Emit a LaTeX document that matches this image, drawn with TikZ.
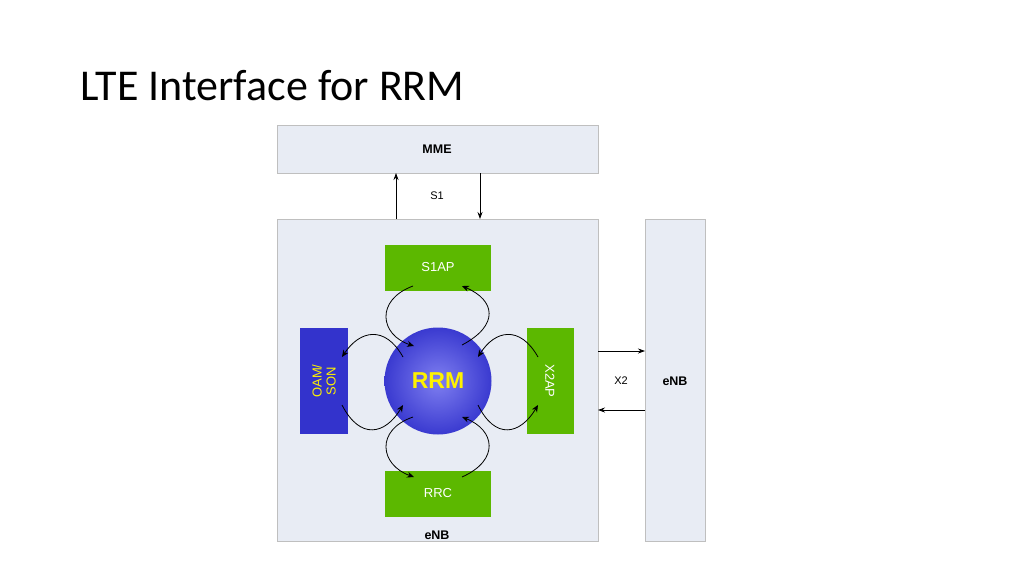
\documentclass[tikz,border=0pt]{standalone}
\usepackage{fontspec}
\setmainfont{Liberation Sans}
\newfontfamily\titlefont{Carlito}
\usetikzlibrary{arrows.meta}
\definecolor{bx}{HTML}{E8ECF4}
\definecolor{gr}{HTML}{5CB800}
\definecolor{ob}{HTML}{3333CC}
\definecolor{b1}{HTML}{7F7FF0}
\definecolor{b2}{HTML}{3A3AD0}
\begin{document}
\begin{tikzpicture}[x=1pt,y=-1pt,
  box/.style={draw=black!25,fill=bx,line width=0.6pt},
  gbox/.style={fill=gr,draw=none},
  lbl/.style={font=\fontsize{13}{13}\selectfont},
  arr/.style={-{Stealth[length=7pt,width=5pt]},line width=0.8pt},
  carr/.style={-{Stealth[length=7pt,width=6pt]},line width=0.8pt}]
\useasboundingbox (0,0) rectangle (1024,576);
\fill[white] (0,0) rectangle (1024,576);
\node[anchor=west,font=\titlefont\fontsize{44}{44}\selectfont] (title) at (77,86) {LTE Interface for RRM};
\node[box,minimum width=321,minimum height=48,anchor=north west] (mme) at (277,125) {};
\node[font=\bfseries\fontsize{12.5}{12.5}\selectfont] (mmet) at (437,149) {MME};
\node[box,minimum width=321,minimum height=322,anchor=north west] (enb) at (277,219) {};
\node[font=\bfseries\fontsize{12.5}{12.5}\selectfont] (enbt) at (437,535) {eNB};
\node[box,minimum width=60,minimum height=322,anchor=north west] (enb2) at (645,219) {};
\node[font=\bfseries\fontsize{12.5}{12.5}\selectfont] (enb2t) at (675,381) {eNB};
\node[font=\fontsize{11}{11}\selectfont] (s1) at (437,196) {S1};
\node[font=\fontsize{11}{11}\selectfont] (x2) at (621,381) {X2};
\coordinate (a1) at (396,219); \coordinate (a2) at (396,173);
\coordinate (b1) at (480,173); \coordinate (b2) at (480,219);
\draw[arr] (a1) -- (a2); \draw[arr] (b1) -- (b2);
\coordinate (c1) at (598,351); \coordinate (c2) at (645,351);
\coordinate (d1) at (645,410); \coordinate (d2) at (598,410);
\draw[arr] (c1) -- (c2); \draw[arr] (d1) -- (d2);
\node[gbox,minimum width=106,minimum height=46,anchor=north west] (s1ap) at (385,245) {};
\node[lbl,text=white] at (438,267) {S1AP};
\node[gbox,minimum width=106,minimum height=46,anchor=north west] (rrc) at (385,471) {};
\node[lbl,text=white] at (438,493) {RRC};
\node[fill=ob,minimum width=48,minimum height=106,anchor=north west] (oam) at (300,328) {};
\node[rotate=90,text=yellow,align=center,font=\fontsize{13}{14}\selectfont] at (324,381) {OAM/\\SON};
\node[gbox,minimum width=47,minimum height=106,anchor=north west] (x2ap) at (527,328) {};
\node[lbl,rotate=-90,text=white] at (550,381) {X2AP};
\shade[inner color=b1,outer color=b2] (438,381) circle (53.5);
\node[circle,minimum size=107] (rrm) at (438,381) {};
\node[text=yellow,font=\bfseries\fontsize{23}{23}\selectfont] at (438,381) {RRM};
\draw[carr] (413,286) .. controls (375,300) and (380,335) .. (414,346);
\draw[carr] (462,345) .. controls (500,325) and (495,300) .. (462,286);
\draw[carr] (403,357) .. controls (385,325) and (360,330) .. (342,357);
\draw[carr] (342,405) .. controls (360,440) and (385,435) .. (403,405);
\draw[carr] (538,357) .. controls (520,325) and (495,330) .. (478,357);
\draw[carr] (478,405) .. controls (495,440) and (520,435) .. (538,405);
\draw[carr] (413,417) .. controls (375,430) and (380,465) .. (414,477);
\draw[carr] (462,477) .. controls (500,460) and (495,430) .. (462,417);
\end{tikzpicture}
\end{document}
